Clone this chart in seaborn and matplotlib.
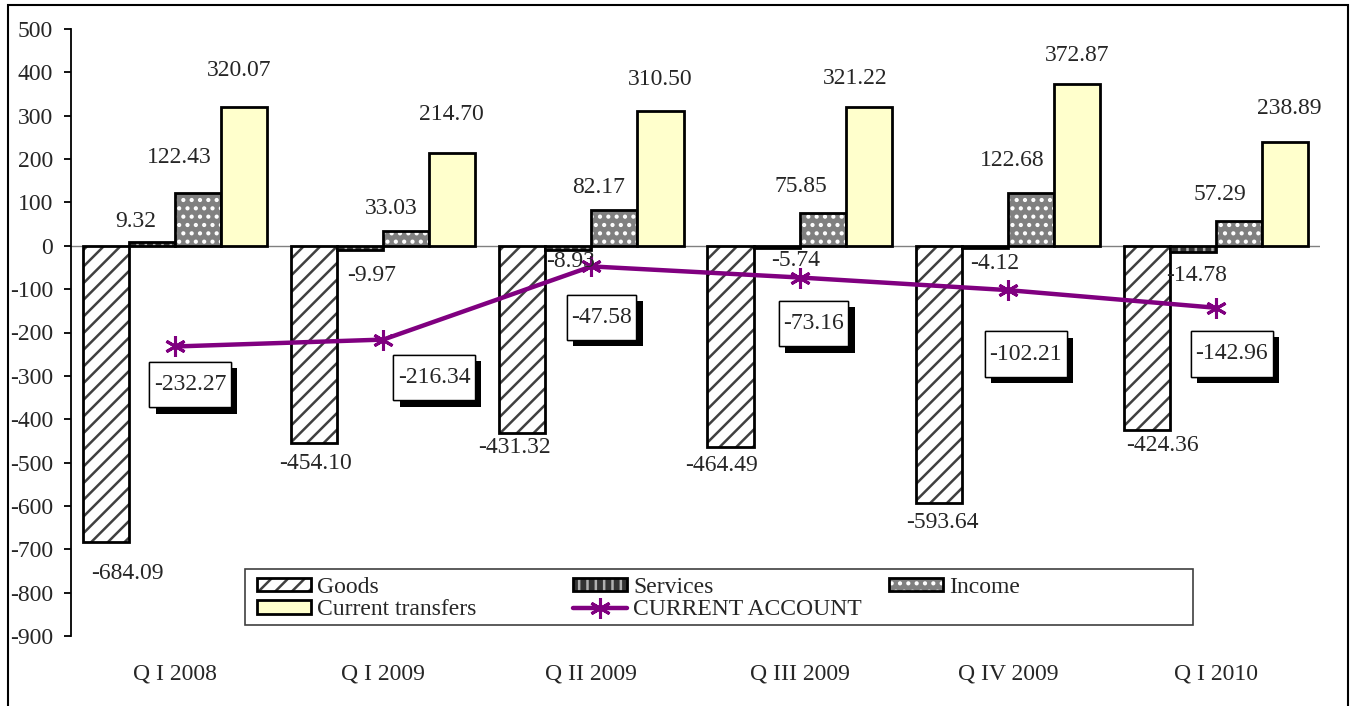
import numpy as np
import pandas as pd
import matplotlib
matplotlib.use("Agg")
import matplotlib.pyplot as plt
import matplotlib.patches as mpatches
import matplotlib.lines as mlines
import matplotlib.patheffects as pe
from matplotlib.path import Path
from matplotlib.colors import to_rgba
import seaborn as sns

# ---- data ----
quarters = ["Q I 2008", "Q I 2009", "Q II 2009", "Q III 2009", "Q IV 2009", "Q I 2010"]
series = ["Goods", "Services", "Income", "Current transfers"]
goods = [-684.09, -454.10, -431.32, -464.49, -593.64, -424.36]
services = [9.32, -9.97, -8.93, -5.74, -4.12, -14.78]
income = [122.43, 33.03, 82.17, 75.85, 122.68, 57.29]
transfers = [320.07, 214.70, 310.50, 321.22, 372.87, 238.89]
current_account = [-232.27, -216.34, -47.58, -73.16, -102.21, -142.96]
y_ticks = list(range(-900, 501, 100))

# ---- styling ----
W, H = 1356, 706
FS = 17
face_colors = ["white", "#333333", "#808080", "#FFFFCC"]
hatches = ["//", "||", "..", ""]
hatch_colors = ["#404040", "#b0b0b0", "white", "black"]
line_color = "#800080"

# label offsets in pixels (dx, dy), per bar
goods_off = [(21, -31), (1, -21), (-8, -15), (-9, -18), (4, -19), (16, -16)]
services_off = [(-16, 20), (11, -25), (2, -12), (19, -12), (10, -16), (4, -23)]
income_off = [(-19, 35), (-15, 23), (-16, 23), (-22, 26), (-19, 32), (-19, 26)]
transfers_off = [(-5, 37), (-1, 38), (0, 32), (-13, 28), (0, 29), (4, 34)]
ca_off = [(15, -38), (51, -38), (10, -51), (14, -46), (18, -64), (16, -46)]

sns.set_style("white")
plt.rcParams["font.family"] = ["Liberation Serif", "DejaVu Serif"]
plt.rcParams["hatch.linewidth"] = 1.8


def set_hatch_color(p, c):
    if hasattr(p, "set_hatchcolor"):
        p.set_hatchcolor(c)
    else:
        p._hatch_color = to_rgba(c)


def tall_box(x0, y0, width, height, mutation_size):
    """Rectangle with small side padding and generous top/bottom padding."""
    px = 0.19 * mutation_size
    py = 0.52 * mutation_size
    xa, xb = x0 - px, x0 + width + px
    ya, yb = y0 - py, y0 + height + py
    return Path([(xa, ya), (xb, ya), (xb, yb), (xa, yb), (xa, ya)], closed=True)


df = pd.DataFrame({
    "quarter": np.repeat(quarters, len(series)),
    "series": series * len(quarters),
    "value": np.ravel(np.column_stack([goods, services, income, transfers])),
})

fig = plt.figure(figsize=(W / 100, H / 100), dpi=100)
ax = fig.add_axes([71 / W, 1 - 636 / H, (1320 - 71) / W, (636 - 29) / H])

sns.barplot(data=df, x="quarter", y="value", hue="series", hue_order=series,
            order=quarters, palette=face_colors, saturation=1, width=0.885,
            edgecolor="black", linewidth=2, legend=False, ax=ax, zorder=3)

for cont, hatch, hc in zip(ax.containers, hatches, hatch_colors):
    for p in cont.patches:
        p.set_hatch(hatch)
        set_hatch_color(p, hc)

ax.axhline(0, color="#808080", lw=1, zorder=2)

# current account line
sns.lineplot(x=np.arange(len(quarters)), y=current_account, color=line_color,
             linewidth=3.2, marker=(6, 2, 0), markersize=15, markeredgewidth=2.2,
             markeredgecolor=line_color, ax=ax, zorder=5)

# bar value labels
for cont, vals, offs in zip(ax.containers, [goods, services, income, transfers],
                            [goods_off, services_off, income_off, transfers_off]):
    for p, v, (dx, dy) in zip(cont.patches, vals, offs):
        xc = p.get_x() + p.get_width() / 2
        ax.annotate(f"{v:.2f}", (xc, v), xytext=(dx, dy), textcoords="offset pixels",
                    ha="center", va="center", fontsize=FS, zorder=6)

# current account labels in shadowed boxes
for i, (v, (dx, dy)) in enumerate(zip(current_account, ca_off)):
    t = ax.annotate(f"{v:.2f}", (i, v), xytext=(dx, dy), textcoords="offset pixels",
                    ha="center", va="center", fontsize=FS, zorder=7,
                    bbox=dict(boxstyle=tall_box, fc="white", ec="black", lw=1))
    t.get_bbox_patch().set_path_effects(
        [pe.withSimplePatchShadow(offset=(4.5, -4.5), shadow_rgbFace="black", alpha=1.0),
         pe.Normal()])

# axes
ax.set_xlim(-0.5, len(quarters) - 0.5)
ax.set_ylim(-900, 500)
ax.set_yticks(y_ticks)
ax.set_yticklabels([str(t) for t in y_ticks])
ax.set_xlabel("")
ax.set_ylabel("")
for s in ["top", "right", "bottom"]:
    ax.spines[s].set_visible(False)
ax.spines["left"].set_color("black")
ax.spines["left"].set_linewidth(1.3)
ax.tick_params(axis="y", left=True, direction="out", length=5, width=1.3, pad=8,
               labelsize=FS, color="black")
ax.tick_params(axis="x", bottom=False, length=0, pad=20, labelsize=FS)
ax.set_facecolor("none")


# legend in three equal columns
def bar_handle(k):
    h = mpatches.Patch(facecolor=face_colors[k], edgecolor="black", linewidth=2,
                       hatch=hatches[k])
    set_hatch_color(h, hatch_colors[k])
    return h


line_handle = mlines.Line2D([], [], color=line_color, linewidth=3.2, marker=(6, 2, 0),
                            markersize=15, markeredgewidth=2.2)
columns = [
    ([bar_handle(0), bar_handle(3)], [series[0], series[3]]),
    ([bar_handle(1), line_handle], [series[1], "CURRENT ACCOUNT"]),
    ([bar_handle(2)], [series[2]]),
]
col_x = [257, 573, 889]
for (hs, ls), x in zip(columns, col_x):
    fig.legend(hs, ls, loc="upper left", bbox_to_anchor=(x / W, 1 - 577 / H),
               frameon=False, borderpad=0, borderaxespad=0, fontsize=FS,
               handlelength=2.3, handleheight=0.5, handletextpad=0.25,
               labelspacing=0.06)

fig.add_artist(mpatches.Rectangle((245 / W, 1 - 625 / H), (1193 - 245) / W, 56 / H,
                                  transform=fig.transFigure, fill=False,
                                  edgecolor="#404040", linewidth=1.2))

# outer frame
fig.add_artist(mpatches.Rectangle((8 / W, -0.01), (1348 - 8) / W, 1 - 5 / H + 0.01,
                                  transform=fig.transFigure, fill=False,
                                  edgecolor="black", linewidth=1.5))

fig.savefig("out.png", dpi=100)
